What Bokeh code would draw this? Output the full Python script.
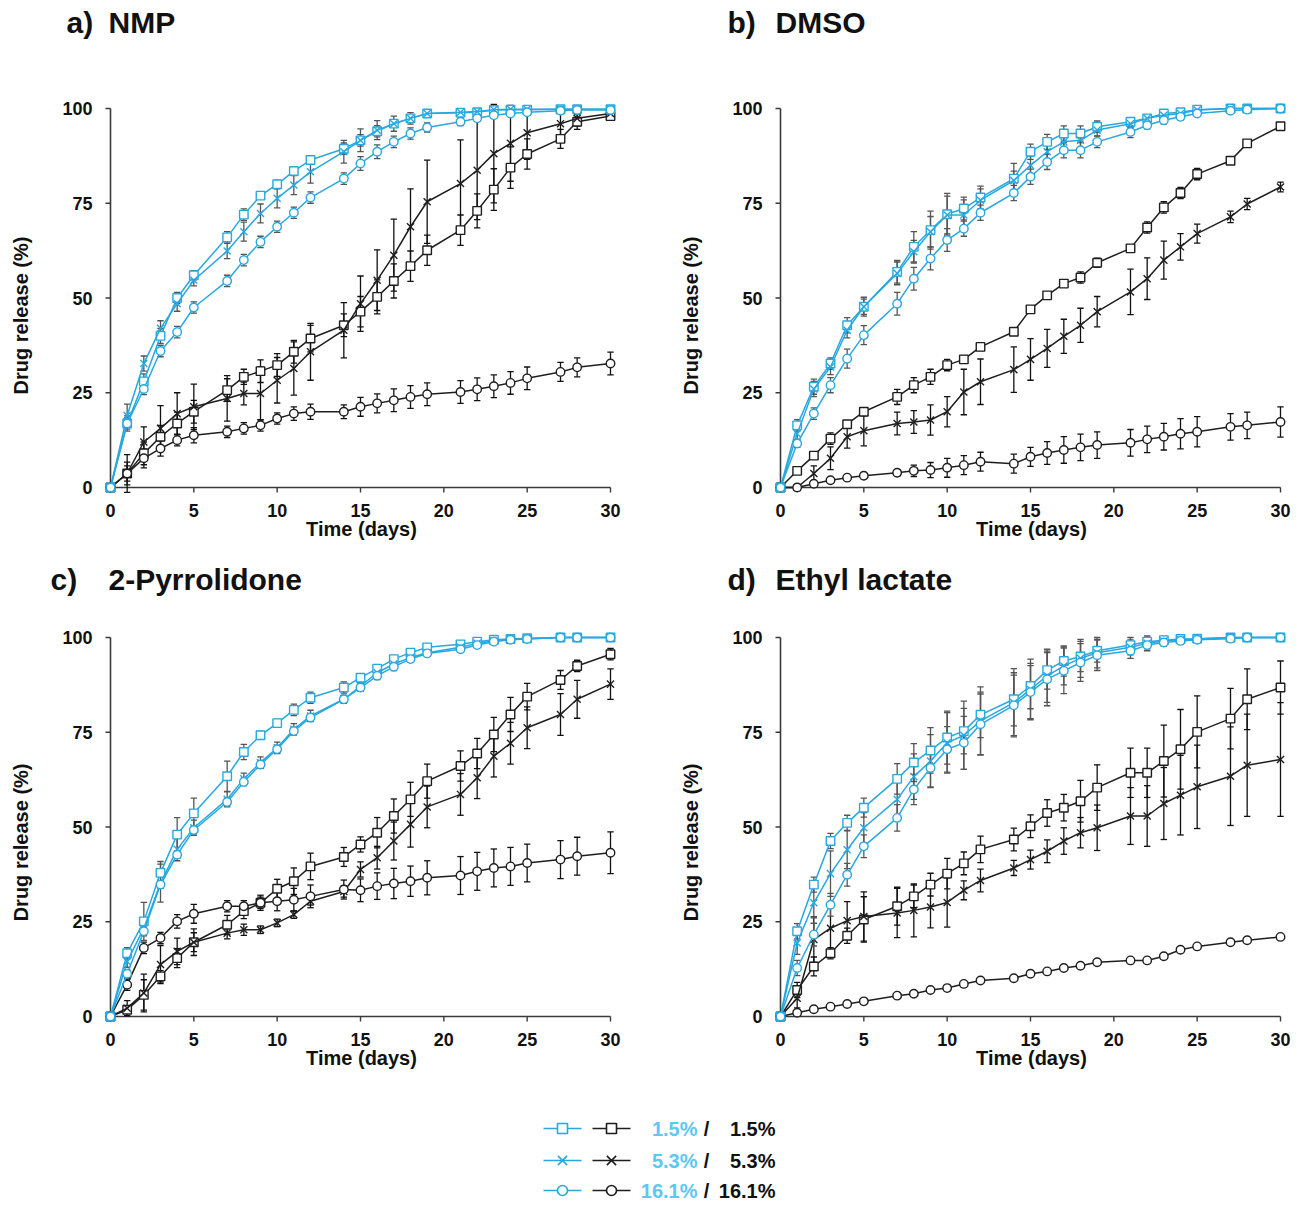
import math
from bokeh.plotting import figure
from bokeh.models import Range1d, FixedTicker
from bokeh.layouts import column, row
from bokeh.embed import file_html
from bokeh.resources import INLINE
from bokeh.core.properties import value

# ---------------- data ----------------
T = [0, 1, 2, 3, 4, 5, 7, 8, 9, 10, 11, 12, 14, 15, 16, 17, 18, 19, 21, 22, 23, 24, 25, 27, 28, 30]
X_TICKS = [0, 5, 10, 15, 20, 25, 30]
Y_TICKS = [0, 25, 50, 75, 100]
CONC = ["1.5%", "5.3%", "16.1%"]
MARKERS = ["square", "x", "circle"]
PANEL_LETTERS = ["a)", "b)", "c)", "d)"]
PANEL_NAMES = ["NMP", "DMSO", "2-Pyrrolidone", "Ethyl lactate"]
X_LABEL = "Time (days)"
Y_LABEL = "Drug release (%)"

# a) NMP
nmp_cyan_15 = [0, 16.9, 28, 40, 50, 56, 66, 72, 77, 80, 83.5, 86.4, 89.4, 91.6, 94, 96, 97.4, 98.7, 98.9, 99, 99.6, 99.7, 99.7, 99.8, 99.8, 99.8]
nmp_cyan_15_err = [0, 2, 2, 2, 1.5, 1.2, 1.5, 1.5, 1, 1, 1, 1, 1.5, 1.5, 1.5, 1, 1, 1, 0.5, 0.5, 0.5, 0.5, 0.5, 0.3, 0.3, 0.3]
nmp_cyan_53 = [0, 19, 32.7, 42, 48.5, 54.7, 62.4, 67.5, 72.3, 76.3, 79.8, 83.3, 88.6, 91.6, 94.3, 96, 97.4, 98.7, 99, 99.2, 99.7, 99.8, 99.8, 99.8, 99.8, 99.8]
nmp_cyan_53_err = [0, 3, 2, 2, 2, 1.5, 2, 2.5, 2.5, 2.5, 2.5, 3, 3, 3, 2.5, 2, 1.5, 1, 0.5, 0.5, 0.5, 0.3, 0.3, 0.3, 0.3, 0.3]
nmp_cyan_161 = [0, 16.9, 26, 36, 41, 47.5, 54.5, 60, 64.8, 68.8, 72.5, 76.5, 81.5, 85.5, 88.6, 91.2, 93.4, 95, 96.5, 97.4, 98.2, 98.7, 99, 99.4, 99.6, 99.6]
nmp_cyan_161_err = [0, 1.5, 1.5, 1.5, 1.5, 1.5, 1.5, 1.5, 1.5, 1.5, 1.5, 1.5, 1.5, 1.8, 1.8, 1.5, 1.5, 1.2, 1, 0.8, 0.6, 0.5, 0.5, 0.3, 0.3, 0.3]
nmp_black_15 = [0, 3.7, 9, 13.4, 16.9, 20, 25.7, 29.2, 30.7, 32.3, 35.8, 39.3, 42.8, 46.4, 50.3, 54.5, 58.4, 62.6, 67.9, 73, 78.6, 84.4, 88, 92, 96.5, 98]
nmp_black_15_err = [0, 3, 3, 3, 3, 3, 3, 2, 3, 3, 3, 3.5, 3, 4, 4.5, 4.5, 4, 4, 4, 4.5, 5.5, 5.5, 4, 2.5, 2, 1]
nmp_black_53 = [0, 3.7, 12, 15.6, 19.5, 21.3, 23.5, 24.8, 24.8, 28.3, 31.4, 35.8, 41.5, 48.5, 54.7, 61.3, 68.8, 75.4, 80.2, 83.7, 88.1, 90.8, 93.6, 96, 97.4, 98.7]
nmp_black_53_err = [0, 5, 4, 6, 5.5, 6, 6, 3, 7, 6, 7, 7.5, 7.3, 7.3, 8, 9.5, 10, 11, 11.5, 13, 13, 10, 7, 3, 2, 1]
nmp_black_161 = [0, 3.7, 7.7, 10.3, 12.5, 13.8, 14.7, 15.6, 16.4, 18.2, 19.5, 20, 20, 21.3, 22.2, 23, 23.9, 24.6, 25.2, 25.9, 26.7, 27.6, 28.8, 30.5, 31.7, 32.7]
nmp_black_161_err = [0, 2, 2.5, 2, 1.5, 2, 1.5, 1.5, 1.5, 1.5, 1.8, 2, 1.8, 2.5, 2.5, 3, 3, 3, 3, 3, 3, 3, 3, 2.5, 2.5, 3]

# b) DMSO
dmso_cyan_15 = [0, 16.4, 26.6, 32.7, 42.8, 47.7, 56.9, 63.5, 67.9, 72.1, 73.6, 76.5, 81.5, 88.6, 91.2, 93.4, 93.4, 95.2, 96.5, 97.4, 98.7, 99, 99.7, 100, 100, 100]
dmso_cyan_15_err = [0, 1.5, 2, 1.5, 2, 2.5, 3, 4, 5, 5.5, 3, 3, 4, 2, 2, 2, 2, 1.5, 1, 1, 0.8, 0.5, 0.5, 0.3, 0.3, 0.3]
dmso_cyan_53 = [0, 14.2, 26, 31.8, 41.5, 47.7, 56.5, 62.2, 67.5, 71.9, 71.9, 75.8, 81, 85, 88.6, 91.2, 91.6, 94.3, 96, 97.4, 98.2, 98.7, 99.6, 100, 100, 100]
dmso_cyan_53_err = [0, 1.5, 2, 2, 2, 2, 3, 3, 4, 5, 4, 3, 2.5, 2.5, 2.5, 2, 2, 1.5, 1, 1, 0.8, 0.5, 0.5, 0.3, 0.3, 0.3]
dmso_cyan_161 = [0, 11.6, 19.5, 27, 34, 40.2, 48.5, 55.1, 60.4, 65.3, 68.3, 72.5, 77.7, 82, 85.9, 89, 89, 91.2, 93.8, 95.6, 96.9, 97.8, 98.7, 99.4, 99.7, 100]
dmso_cyan_161_err = [0, 1, 1.5, 2, 2.5, 2.5, 3, 3, 3, 3, 2, 2, 2, 2, 2, 2, 2, 1.5, 1.5, 1, 1, 0.8, 0.5, 0.3, 0.3, 0.3]
dmso_black_15 = [0, 4.4, 8.4, 12.9, 16.7, 20, 23.9, 27, 29.2, 32.3, 33.8, 37.1, 41.1, 47, 50.7, 53.8, 55.4, 59.3, 63.1, 68.6, 73.9, 77.7, 82.7, 86.2, 90.8, 95.3]
dmso_black_15_err = [0, 0.5, 0.5, 1.5, 0.8, 1, 2, 2, 2, 1.5, 1, 1, 0.8, 0.8, 0.8, 0.8, 1.5, 1.2, 1, 1.5, 1.5, 1.5, 1.5, 0.8, 0.8, 0.8]
dmso_black_53 = [0, 0, 3.7, 7.7, 13.4, 15, 16.9, 17.3, 17.8, 20, 25.2, 27.9, 31.1, 33.8, 36.7, 39.9, 42.8, 46.4, 51.6, 55.1, 60, 63.5, 67, 71.4, 74.8, 79.3]
dmso_black_53_err = [0, 0.5, 2, 3, 3, 4, 3, 3, 4, 4, 6, 6, 6, 5.5, 5, 4.5, 4.5, 4, 6, 5.5, 5, 3.5, 2.5, 1.5, 1.5, 1.3]
dmso_black_161 = [0, 0, 1, 1.9, 2.6, 3.1, 3.9, 4.4, 4.6, 5.2, 5.9, 6.8, 6.3, 8.1, 9.1, 9.9, 10.6, 11.2, 11.8, 12.7, 13.4, 14.2, 14.7, 16, 16.4, 17.3]
dmso_black_161_err = [0, 0.3, 0.3, 0.3, 0.3, 0.3, 0.8, 1.5, 2, 2.5, 2.5, 2.5, 2.5, 2.5, 3, 3.5, 3.5, 3.5, 3.5, 3.5, 3.5, 4, 4, 3.5, 3.5, 4]

# c) 2-Pyrrolidone
pyr_cyan_15 = [0, 16.7, 25.1, 37.9, 48, 53.6, 63.4, 69.8, 74.2, 77.4, 80.9, 84.1, 86.8, 89.4, 91.8, 94.3, 96, 97.4, 98.2, 98.9, 99.4, 99.6, 99.8, 100, 100, 100]
pyr_cyan_15_err = [0, 1.5, 5, 3, 4.5, 4, 4, 2, 1, 1, 1.5, 1.5, 1.5, 1, 1, 0.8, 0.8, 0.5, 0.5, 0.5, 0.3, 0.3, 0.3, 0.3, 0.3, 0.3]
pyr_cyan_53 = [0, 14.5, 23.3, 35.2, 44.1, 49.8, 57.3, 62.7, 67, 70.9, 75.8, 79.3, 83.7, 87.2, 90.7, 93, 94.7, 96, 97.4, 98.5, 99.1, 99.6, 99.7, 100, 100, 100]
pyr_cyan_53_err = [0, 1.5, 2, 5, 3, 2, 2, 1.5, 1.5, 1.5, 1.5, 1.5, 1, 1, 1, 1, 0.8, 0.8, 0.5, 0.5, 0.3, 0.3, 0.3, 0.3, 0.3, 0.3]
pyr_cyan_161 = [0, 11.3, 22.5, 34.8, 42.7, 49.2, 56.6, 61.9, 66.5, 70.5, 75.3, 78.9, 83.7, 86.8, 89.9, 92.3, 94.3, 95.8, 96.9, 98, 98.9, 99.4, 99.6, 100, 100, 100]
pyr_cyan_161_err = [0, 1, 1, 1, 1, 1, 1, 1, 1, 1, 1, 1, 1, 1, 1, 1, 0.8, 0.8, 0.5, 0.5, 0.3, 0.3, 0.3, 0.3, 0.3, 0.3]
pyr_black_15 = [0, 1.8, 5.7, 10.6, 15.4, 19.6, 24.2, 27.8, 30, 33.7, 35.7, 39.6, 42.1, 45.4, 48.5, 52.9, 57.3, 62.1, 66.1, 69.4, 74.4, 79.7, 84.4, 88.8, 92.5, 95.6]
pyr_black_15_err = [0, 1, 4, 1.5, 2.5, 2.5, 2.5, 2, 2, 2.5, 3.5, 3.5, 2.5, 2, 4, 4.5, 4.5, 4.5, 4, 4, 4.5, 4.5, 3.5, 2.5, 1.5, 1.5]
pyr_black_53 = [0, 2.2, 6.2, 13.7, 17.2, 19.6, 22, 22.9, 22.9, 24.7, 26.9, 30.4, 33, 38.8, 41.9, 46.3, 50.7, 55.3, 58.6, 63, 68.7, 72.1, 76.2, 79.7, 83.7, 87.7]
pyr_black_53_err = [0, 2, 5, 5, 3.5, 3.5, 1.5, 1.5, 1, 1, 1, 1, 1.5, 2, 3, 5, 6, 5.5, 5.5, 5.5, 5.5, 5.5, 5.5, 5.5, 5, 4]
pyr_black_161 = [0, 8.4, 18.1, 20.7, 25.1, 27.1, 29.1, 29.1, 30, 30.4, 30.8, 31.7, 33.5, 33.3, 34.4, 35.1, 35.7, 36.6, 37.2, 38.3, 39.2, 39.6, 40.5, 41.4, 42.3, 43.2]
pyr_black_161_err = [0, 1.5, 1.5, 1.5, 1.8, 2.5, 1.5, 1.5, 1.5, 2.5, 3, 3, 2.5, 3, 3.5, 4, 4, 4.5, 5, 5, 5, 5, 5, 5, 5, 5.5]

# d) Ethyl lactate
el_cyan_15 = [0, 22.5, 34.8, 46.3, 51.1, 55.1, 62.7, 67, 70.2, 73.6, 75.3, 79.6, 83.7, 87.2, 91.4, 93.8, 95, 96.5, 98, 98.9, 99.3, 99.6, 99.7, 100, 100, 100]
el_cyan_15_err = [0, 2, 2, 2, 2, 2.5, 4, 5, 6, 7, 6, 6, 7, 6, 5, 4, 4, 3, 2, 1.5, 1, 0.8, 0.5, 0.3, 0.3, 0.3]
el_cyan_53 = [0, 19.4, 30, 37.7, 44, 49.8, 57.3, 63.3, 67.4, 72.2, 74.2, 78, 82.8, 86.3, 89.9, 92.5, 94.5, 96, 97.4, 98.5, 99.1, 99.4, 99.6, 100, 100, 100]
el_cyan_53_err = [0, 3, 4, 6, 5, 4, 5, 6, 7, 8, 9, 9, 9, 8, 7, 5, 5, 4, 2, 1.5, 1, 0.8, 0.5, 0.3, 0.3, 0.3]
el_cyan_161 = [0, 12.8, 21.6, 29.5, 37.4, 44.9, 52.4, 59.9, 65.6, 70.5, 72.2, 77.1, 82.1, 85.6, 89, 91.2, 93.4, 95.3, 96.5, 98, 98.7, 99.1, 99.4, 99.7, 100, 100]
el_cyan_161_err = [0, 2, 3, 3, 3, 3, 3.5, 4, 5, 6, 7, 8, 8, 7, 7, 6, 5, 4, 2, 1.5, 1, 0.8, 0.5, 0.3, 0.3, 0.3]
el_black_15 = [0, 7, 13.2, 16.7, 21.3, 25.6, 29.1, 31.7, 34.8, 37.7, 40.4, 44.1, 46.7, 50.2, 53.7, 55.1, 56.8, 60.4, 64.3, 64.3, 67.4, 70.5, 75.1, 78.6, 83.7, 86.8]
el_black_15_err = [0, 2, 2.5, 1.5, 2, 6, 5, 3, 3, 4, 3, 3.5, 3, 3, 3.5, 3.5, 5.5, 6, 6.5, 6.5, 9.5, 10.5, 9.5, 8, 8, 7]
el_black_53 = [0, 4.8, 20.3, 23.3, 25.3, 26.4, 27.3, 28, 28.9, 30.1, 33.3, 35.9, 39.2, 41.4, 43.6, 46.3, 48.5, 49.8, 52.9, 52.9, 56.2, 58.4, 60.6, 63.4, 66.3, 67.8]
el_black_53_err = [0, 2.5, 6, 6, 5, 6.5, 6.5, 7, 5.5, 6.5, 2.5, 3, 2, 2.5, 3, 3.5, 4, 6, 7.5, 8, 9.5, 10.5, 11, 13, 13.5, 15]
el_black_161 = [0, 1, 1.9, 2.6, 3.3, 4, 5.5, 6, 7, 7.5, 8.6, 9.5, 10.1, 11.3, 11.9, 12.8, 13.4, 14.3, 14.8, 14.8, 15.9, 17.6, 18.5, 19.6, 20.1, 21]
el_black_161_err = [0.0] + [0.3] * 25

PANELS = [
    ([nmp_cyan_15, nmp_cyan_53, nmp_cyan_161], [nmp_cyan_15_err, nmp_cyan_53_err, nmp_cyan_161_err],
     [nmp_black_15, nmp_black_53, nmp_black_161], [nmp_black_15_err, nmp_black_53_err, nmp_black_161_err]),
    ([dmso_cyan_15, dmso_cyan_53, dmso_cyan_161], [dmso_cyan_15_err, dmso_cyan_53_err, dmso_cyan_161_err],
     [dmso_black_15, dmso_black_53, dmso_black_161], [dmso_black_15_err, dmso_black_53_err, dmso_black_161_err]),
    ([pyr_cyan_15, pyr_cyan_53, pyr_cyan_161], [pyr_cyan_15_err, pyr_cyan_53_err, pyr_cyan_161_err],
     [pyr_black_15, pyr_black_53, pyr_black_161], [pyr_black_15_err, pyr_black_53_err, pyr_black_161_err]),
    ([el_cyan_15, el_cyan_53, el_cyan_161], [el_cyan_15_err, el_cyan_53_err, el_cyan_161_err],
     [el_black_15, el_black_53, el_black_161], [el_black_15_err, el_black_53_err, el_black_161_err]),
]

# ---------------- style / layout ----------------
CYAN = "#27A8E0"
CYAN_TEXT = "#5EC7F4"
BLACK = "#1E1E1E"
AXIS = "#3A3A3A"
TEXT = "#111111"
FONT = "Liberation Sans"

PAGE_W = 1298
FRAME_W, FRAME_H = 518, 397
X_RANGE = (-0.48, 30.6)
Y_RANGE = (-2.11, 102.64)
PX_X = FRAME_W / (X_RANGE[1] - X_RANGE[0])
PX_Y = FRAME_H / (Y_RANGE[1] - Y_RANGE[0])

YLAB_W = 40
PANEL_LEFT = 62
PANEL_A_W = 630
PANEL_B_W = PAGE_W - 2 * YLAB_W - PANEL_A_W


def blank(width, height):
    f = figure(width=width, height=height, x_range=Range1d(0, width), y_range=Range1d(0, height),
               output_backend="svg", toolbar_location=None, min_border=0)
    f.axis.visible = False
    f.grid.visible = False
    f.outline_line_color = None
    return f


def title_strip(height, baseline_from_top, items):
    f = blank(PAGE_W, height)
    for x, txt in items:
        f.text(x=[x], y=[height - baseline_from_top], text=[txt], text_font=value(FONT),
               text_font_style="bold", text_font_size="30px", text_color=TEXT,
               text_align="left", text_baseline="alphabetic")
    return f


def ylabel_fig(height, center_from_top):
    f = blank(YLAB_W, height)
    f.text(x=[YLAB_W / 2], y=[height - center_from_top], text=[Y_LABEL], angle=math.pi / 2,
           text_font=value(FONT), text_font_style="bold", text_font_size="20px", text_color=TEXT,
           text_align="center", text_baseline="middle")
    return f


def make_panel(i, width, height, top):
    cyan, cyan_err, black, black_err = PANELS[i]
    p = figure(width=width, height=height, x_range=Range1d(*X_RANGE), y_range=Range1d(*Y_RANGE),
               output_backend="svg", toolbar_location=None,
               min_border_left=PANEL_LEFT, min_border_right=width - PANEL_LEFT - FRAME_W,
               min_border_top=top, min_border_bottom=height - top - FRAME_H)
    p.outline_line_color = None
    p.grid.visible = False
    for ax, ticks in ((p.xaxis, X_TICKS), (p.yaxis, Y_TICKS)):
        ax.ticker = FixedTicker(ticks=ticks)
        ax.axis_line_color = None
        ax.major_tick_line_color = None
        ax.minor_tick_line_color = None
        ax.major_tick_out = 0
        ax.major_tick_in = 0
        ax.major_label_text_font = FONT
        ax.major_label_text_font_style = "bold"
        ax.major_label_text_font_size = "18px"
        ax.major_label_text_color = TEXT
    p.xaxis.major_label_standoff = 8
    p.yaxis.major_label_standoff = 10
    p.xaxis.axis_label = X_LABEL
    p.xaxis.axis_label_text_font = FONT
    p.xaxis.axis_label_text_font_style = "bold"
    p.xaxis.axis_label_text_font_size = "20px"
    p.xaxis.axis_label_text_color = TEXT
    p.xaxis.axis_label_standoff = -2

    # axis lines and tick marks in data space so they meet at the origin
    tx = 5 / PX_Y
    ty = 5 / PX_X
    p.segment(x0=[X_TICKS[0], X_TICKS[0]], y0=[Y_TICKS[0], Y_TICKS[0]],
              x1=[X_TICKS[-1], X_TICKS[0]], y1=[Y_TICKS[0], Y_TICKS[-1]],
              line_color=AXIS, line_width=1.6)
    p.segment(x0=X_TICKS, y0=[Y_TICKS[0]] * len(X_TICKS), x1=X_TICKS, y1=[Y_TICKS[0] - tx] * len(X_TICKS),
              line_color=AXIS, line_width=1.4)
    p.segment(x0=[X_TICKS[0]] * len(Y_TICKS), y0=Y_TICKS, x1=[X_TICKS[0] - ty] * len(Y_TICKS), y1=Y_TICKS,
              line_color=AXIS, line_width=1.4)

    cap = 3.2 / PX_X
    groups = [(black, black_err, BLACK, "#111111"), (cyan, cyan_err, CYAN, "#555555")]
    for series, errs, col, ecol in groups:
        for k in range(3):
            ys, es = series[k], errs[k]
            lo = [y - e for y, e in zip(ys, es)]
            hi = [y + e for y, e in zip(ys, es)]
            p.segment(x0=T, y0=lo, x1=T, y1=hi, line_color=ecol, line_width=1.3)
            p.segment(x0=[t - cap for t in T], y0=lo, x1=[t + cap for t in T], y1=lo, line_color=ecol, line_width=1.3)
            p.segment(x0=[t - cap for t in T], y0=hi, x1=[t + cap for t in T], y1=hi, line_color=ecol, line_width=1.3)
        for k in range(3):
            ys = series[k]
            p.line(T, ys, line_color=col, line_width=1.5)
            size = 10 if MARKERS[k] == "x" else 8.5
            p.scatter(T, ys, marker=MARKERS[k], size=size, fill_color="white",
                      line_color=col, line_width=1.4)
    return p


# row 1: page y 0..50 titles, 50..555 panels
t1 = title_strip(50, 22, [(66, PANEL_LETTERS[0]), (108, PANEL_NAMES[0]),
                          (727, PANEL_LETTERS[1]), (775, PANEL_NAMES[1])])
R1_H, R1_TOP = 505, 48
pa = make_panel(0, PANEL_A_W, R1_H, R1_TOP)
pb = make_panel(1, PANEL_B_W, R1_H, R1_TOP)
ya = ylabel_fig(R1_H, 276)
yb = ylabel_fig(R1_H, 276)

# row 2: page y 555..600 titles, 600..1084 panels
t2 = title_strip(45, 24, [(50, PANEL_LETTERS[2]), (108, PANEL_NAMES[2]),
                          (727, PANEL_LETTERS[3]), (775, PANEL_NAMES[3])])
R2_H, R2_TOP = 484, 27
pc = make_panel(2, PANEL_A_W, R2_H, R2_TOP)
pd = make_panel(3, PANEL_B_W, R2_H, R2_TOP)
yc = ylabel_fig(R2_H, 262)
yd = ylabel_fig(R2_H, 262)

# legend: page y 1084..1206
LEG_H = 122
leg = blank(PAGE_W, LEG_H)
row_top = [44, 76, 106]
cy_x0, cy_x1, cy_m = 543, 581, 562
bk_x0, bk_x1, bk_m = 592, 630, 611
for k in range(3):
    y = LEG_H - row_top[k]
    leg.segment(x0=[cy_x0], y0=[y], x1=[cy_x1], y1=[y], line_color=CYAN, line_width=1.6)
    leg.segment(x0=[bk_x0], y0=[y], x1=[bk_x1], y1=[y], line_color=BLACK, line_width=1.6)
    size = 13 if MARKERS[k] == "x" else 10
    leg.scatter([cy_m], [y], marker=MARKERS[k], size=size, fill_color="white", line_color=CYAN, line_width=1.6)
    leg.scatter([bk_m], [y], marker=MARKERS[k], size=size, fill_color="white", line_color=BLACK, line_width=1.6)
    leg.text(x=[697], y=[y], text=[CONC[k]], text_font=value(FONT), text_font_style="bold",
             text_font_size="20px", text_color=CYAN_TEXT, text_align="right", text_baseline="middle")
    leg.text(x=[706], y=[y], text=["/"], text_font=value(FONT), text_font_style="bold",
             text_font_size="20px", text_color=TEXT, text_align="center", text_baseline="middle")
    leg.text(x=[775], y=[y], text=[CONC[k]], text_font=value(FONT), text_font_style="bold",
             text_font_size="20px", text_color=TEXT, text_align="right", text_baseline="middle")

layout = column(t1, row(ya, pa, yb, pb), t2, row(yc, pc, yd, pd), leg)
open("out.html", "w").write(file_html(layout, INLINE))
